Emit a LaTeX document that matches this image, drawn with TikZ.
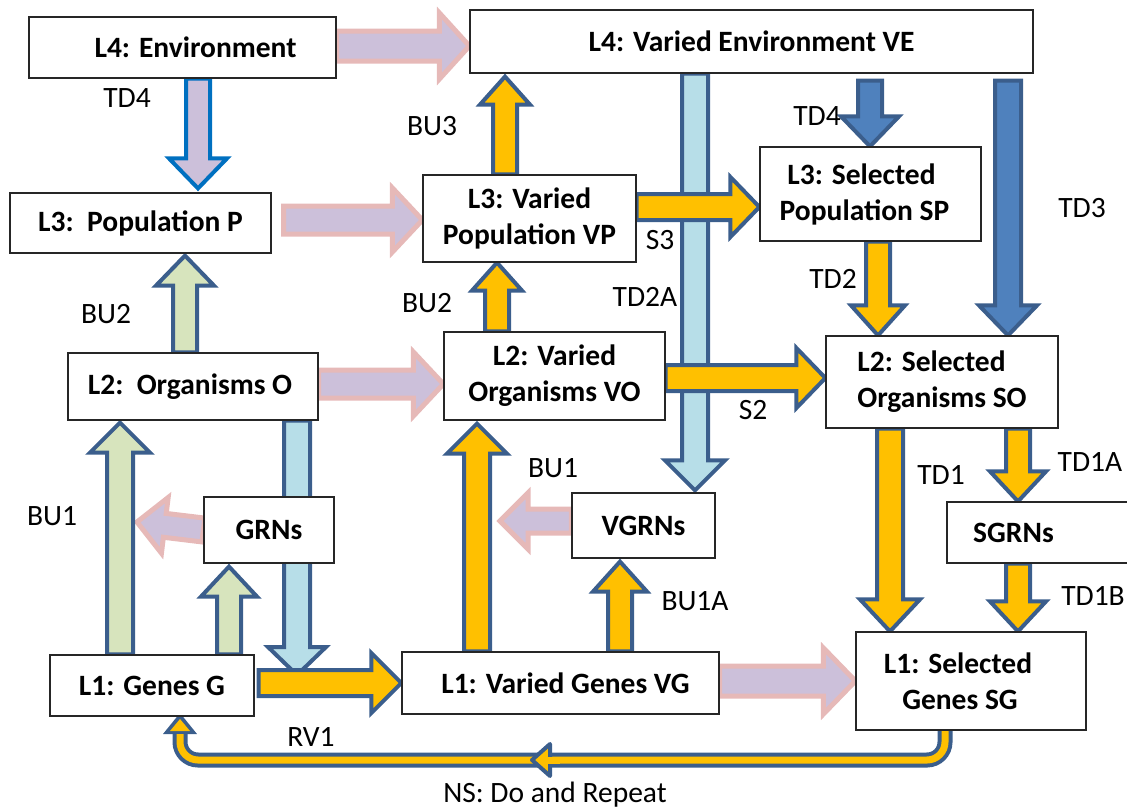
\documentclass[tikz,border=0pt]{standalone}
\usepackage{fontspec}
\setmainfont{Carlito}
\usetikzlibrary{calc}
\definecolor{yel}{HTML}{FFC000}
\definecolor{bord}{HTML}{3B5E8C}
\definecolor{ltb}{HTML}{B7DEE8}
\definecolor{blu}{HTML}{4F81BD}
\definecolor{grnf}{HTML}{D7E4BD}
\definecolor{lav}{HTML}{CCC0DA}
\definecolor{pnk}{HTML}{E6B9B8}
\definecolor{brightb}{HTML}{0070C0}
% block arrow: style, start, tip, half shaft, half head, head length
\newcommand\barrow[6]{%
  \coordinate (bA) at #2; \coordinate (bB) at #3;
  \coordinate (bC) at ($(bB)!#6!(bA)$);
  \draw[#1] ($(bA)!#4!90:(bB)$) -- ($(bC)!#4!90:(bB)$) -- ($(bC)!#5!90:(bB)$) -- (bB)
    -- ($(bC)!#5!-90:(bB)$) -- ($(bC)!#4!-90:(bB)$) -- ($(bA)!#4!-90:(bB)$) -- cycle;}
\tikzset{
  box/.style={draw=black!85, line width=1.2pt, fill=white, align=center, inner sep=0pt,
    font=\fontsize{29.5}{36}\selectfont\bfseries},
  lab/.style={font=\fontsize{29.5}{34}\selectfont, inner sep=0pt},
  arr/.style={line width=4pt, line join=miter, draw=bord},
  yelA/.style={arr, fill=yel},
  ltbA/.style={arr, fill=ltb},
  bluA/.style={arr, fill=blu},
  grnA/.style={arr, fill=grnf},
  pnkA/.style={line width=5pt, line join=miter, draw=pnk, fill=lav},
  tdA/.style={line width=4pt, line join=miter, draw=brightb, fill=lav},
}
\begin{document}
\begin{tikzpicture}[x=1pt,y=-1pt]
\useasboundingbox (0,0) rectangle (1127,809);
% boxes (defined first for names; redrawn on top later)
\path
 node[box, minimum width=307pt, minimum height=61pt] (env) at (182.5,47.5) {}
 node[box, minimum width=563pt, minimum height=63pt] (ve) at (751.5,41.5) {}
 node[box, minimum width=261pt, minimum height=60pt] (pop) at (140.5,223) {}
 node[box, minimum width=213pt, minimum height=87pt] (vp) at (529.5,218.5) {}
 node[box, minimum width=221pt, minimum height=94pt] (sp) at (870.5,194) {}
 node[box, minimum width=250pt, minimum height=67pt] (org) at (193,386.5) {}
 node[box, minimum width=221pt, minimum height=88pt] (vo) at (554.5,376) {}
 node[box, minimum width=232pt, minimum height=92pt] (so) at (942,382) {}
 node[box, minimum width=130pt, minimum height=66pt] (grn) at (269,530) {}
 node[box, minimum width=143pt, minimum height=65pt] (vgrn) at (643.5,525.5) {}
 node[box, minimum width=193pt, minimum height=61pt] (sgrn) at (1043.5,532.5) {}
 node[box, minimum width=204pt, minimum height=61pt] (gen) at (152,685.5) {}
 node[box, minimum width=317pt, minimum height=62pt] (vg) at (560.5,683) {}
 node[box, minimum width=230pt, minimum height=98pt] (sg) at (971,681) {};
% column / row coordinates
\coordinate (xTDl) at (198,0);
\coordinate (xBUiii) at (505,0);
\coordinate (xTDr) at (870,0);
\coordinate (xTDiiA) at (695,0);
\coordinate (xTDiii) at (1008,0);
\coordinate (xTDii) at (878,0);
\coordinate (xBUiil) at (185,0);
\coordinate (xBUiim) at (497,0);
\coordinate (xTDi) at (890,0);
\coordinate (xTDiA) at (1018,0);
\coordinate (xLB) at (297,0);
\coordinate (xBUil) at (120,0);
\coordinate (xGs) at (229,0);
\coordinate (xBUim) at (477,0);
\coordinate (xBUiA) at (620,0);
\coordinate (yEnv) at (0,46);
\coordinate (ySiii) at (0,207);
\coordinate (yPP) at (0,220);
\coordinate (yOO) at (0,384);
\coordinate (ySii) at (0,378);
\coordinate (yRV) at (0,683);
\coordinate (yVS) at (0,681);
\coordinate (rvtop) at (297,675);
\coordinate (grnTip) at (137,522);
\coordinate (vgrnTip) at (500,521);
% NS loop
\coordinate (nsS) at (945,727);
\coordinate (nsE) at (180,731);
\draw[bord, line width=15pt, rounded corners=18pt] (nsS) -- (945,760) -- (180,760) -- (nsE);
\fill[bord] (163,734) -- (180,713) -- (197,734) -- cycle;
\draw[yel, line width=7pt, rounded corners=18pt] ([yshift=-2pt]nsS) -- (945,760) -- (180,760) -- ([yshift=-3pt]nsE);
\fill[yel] (170,731) -- (180,719) -- (190,731) -- cycle;
\draw[bord, line width=4pt, line join=round, fill=yel] (532,760) -- (550,744) -- (550,776) -- cycle;
\fill[yel] (546,756.5) rectangle (560,763.5);
% light blue arrows
\barrow{ltbA}{(ve.south -| xTDiiA)}{([yshift=2pt]vgrn.north -| xTDiiA)}{13pt}{30pt}{30pt}
\barrow{ltbA}{(org.south -| xLB)}{(rvtop)}{13pt}{29pt}{28pt}
% pink arrows
\barrow{pnkA}{(env.east |- yEnv)}{(ve.west |- yEnv)}{15pt}{33pt}{30pt}
\barrow{pnkA}{([xshift=12pt]pop.east |- yPP)}{(vp.west |- yPP)}{14pt}{32pt}{30pt}
\barrow{pnkA}{(org.east |- yOO)}{(vo.west |- yOO)}{14pt}{32pt}{30pt}
\barrow{pnkA}{(vg.east |- yVS)}{(sg.west |- yVS)}{15pt}{33pt}{32pt}
\barrow{pnkA}{(grn.west)}{(grnTip)}{12pt}{28pt}{28pt}
\barrow{pnkA}{(vgrn.west |- vgrnTip)}{(vgrnTip)}{12pt}{28pt}{28pt}
% TD4 left
\barrow{tdA}{(env.south -| xTDl)}{([yshift=4pt]pop.north -| xTDl)}{12pt}{29pt}{30pt}
% blue arrows
\barrow{bluA}{([yshift=-7pt]ve.south -| xTDr)}{(sp.north -| xTDr)}{12pt}{29pt}{30pt}
\barrow{bluA}{([yshift=-7pt]ve.south -| xTDiii)}{(so.north -| xTDiii)}{13pt}{29pt}{30pt}
% green arrows
\barrow{grnA}{(org.north -| xBUiil)}{([yshift=-2pt]pop.south -| xBUiil)}{12pt}{29pt}{30pt}
\barrow{grnA}{(gen.north -| xBUil)}{([yshift=-2pt]org.south -| xBUil)}{13pt}{30pt}{30pt}
\barrow{grnA}{(gen.north -| xGs)}{([yshift=-3pt]grn.south -| xGs)}{12pt}{28pt}{30pt}
% yellow arrows
\barrow{yelA}{(vp.north -| xBUiii)}{([yshift=-3pt]ve.south -| xBUiii)}{12pt}{25pt}{28pt}
\barrow{yelA}{(vp.east |- ySiii)}{(sp.west |- ySiii)}{13pt}{30pt}{29pt}
\barrow{yelA}{(sp.south -| xTDii)}{(so.north -| xTDii)}{12pt}{27pt}{30pt}
\barrow{yelA}{(vo.north -| xBUiim)}{(vp.south -| xBUiim)}{12pt}{25pt}{28pt}
\barrow{yelA}{(vo.east |- ySii)}{(so.west |- ySii)}{13pt}{30pt}{29pt}
\barrow{yelA}{(so.south -| xTDi)}{(sg.north -| xTDi)}{13pt}{30pt}{32pt}
\barrow{yelA}{(so.south -| xTDiA)}{(sgrn.north -| xTDiA)}{12pt}{28pt}{30pt}
\barrow{yelA}{(sgrn.south -| xTDiA)}{(sg.north -| xTDiA)}{12pt}{28pt}{30pt}
\barrow{yelA}{([xshift=4pt]gen.east |- yRV)}{(vg.west |- yRV)}{13pt}{30pt}{30pt}
\barrow{yelA}{(vg.north -| xBUim)}{([yshift=-3pt]vo.south -| xBUim)}{13pt}{30pt}{30pt}
\barrow{yelA}{(vg.north -| xBUiA)}{([yshift=-3pt]vgrn.south -| xBUiA)}{12pt}{27pt}{30pt}
% boxes on top
\node[box, minimum width=307pt, minimum height=61pt] at (env) {\hspace*{26pt}L4: Environment};
\node[box, minimum width=563pt, minimum height=63pt] at (ve) {L4: Varied Environment VE};
\node[box, minimum width=261pt, minimum height=60pt] at (pop) {L3:~~Population P};
\node[box, minimum width=213pt, minimum height=87pt] at (vp) {L3: Varied\\Population VP};
\node[box, minimum width=221pt, minimum height=94pt] at (sp) {L3: Selected\hspace*{18pt}\\Population SP\hspace*{12pt}};
\node[box, minimum width=250pt, minimum height=67pt] at (org) {L2:~~Organisms O\hspace*{6pt}};
\node[box, minimum width=221pt, minimum height=88pt] at (vo) {L2: Varied\\Organisms VO};
\node[box, minimum width=232pt, minimum height=92pt, align=left] at (so) {L2: Selected\\Organisms SO};
\node[box, minimum width=130pt, minimum height=66pt] at (grn) {GRNs};
\node[box, minimum width=143pt, minimum height=65pt] at (vgrn) {VGRNs};
\node[box, minimum width=193pt, minimum height=61pt] at (sgrn) {SGRNs\hspace*{60pt}};
\node[box, minimum width=204pt, minimum height=61pt] at (gen) {L1: Genes G};
\node[box, minimum width=317pt, minimum height=62pt] at (vg) {\hspace*{10pt}L1: Varied Genes VG};
\node[box, minimum width=230pt, minimum height=98pt] at (sg) {L1: Selected\hspace*{26pt}\\Genes SG\hspace*{22pt}};
% labels
\node[lab] (l1) at (127,98) {TD4};
\node[lab] (l2) at (432,126) {BU3};
\node[lab] (l3) at (817,116) {TD4};
\node[lab] (l4) at (660,240) {S3};
\node[lab] (l5) at (1082,208) {TD3};
\node[lab] (l6) at (645,297) {TD2A};
\node[lab] (l7) at (833,279) {TD2};
\node[lab] (l8) at (106,314) {BU2};
\node[lab] (l9) at (427,303) {BU2};
\node[lab] (l10) at (753,410) {S2};
\node[lab] (l11) at (941,475) {TD1};
\node[lab] (l12) at (1090,462) {TD1A};
\node[lab] (l13) at (1093,596) {TD1B};
\node[lab] (l14) at (52,516) {BU1};
\node[lab] (l15) at (553,468) {BU1};
\node[lab] (l16) at (695,601) {BU1A};
\node[lab] (l17) at (311,737) {RV1};
\node[lab] (l18) at (555,795) {NS: Do and Repeat};
\end{tikzpicture}
\end{document}
